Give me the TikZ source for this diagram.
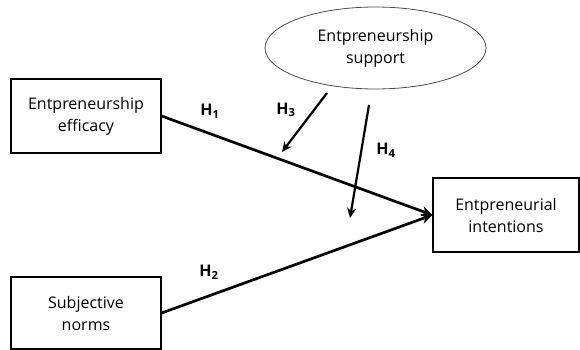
\documentclass[tikz,border=0pt]{standalone}
\usepackage{fontspec}
\setmainfont{Open Sans}
\usepackage{tikz}
\usetikzlibrary{shapes.geometric,arrows.meta}

\tikzset{
  box/.style={draw, line width=1.2pt, minimum width=150pt, minimum height=74pt, align=center, font=\fontsize{16}{22}\selectfont, inner sep=0pt},
  oval/.style={draw, ellipse, draw=black!70, line width=0.8pt, minimum width=221pt, minimum height=82pt, align=center, font=\fontsize{16}{22}\selectfont, inner sep=0pt},
  path/.style={line width=2.7pt, -{Stealth[length=11pt,width=10pt]}},
  moder/.style={line width=2.2pt, -{Stealth[length=10pt,width=9pt]}},
  hyp/.style={font=\fontsize{16}{18}\selectfont\bfseries}
}

\begin{document}
\begin{tikzpicture}[x=1pt,y=-1pt]
\useasboundingbox (0,0) rectangle (580,350);
\node[box] (eff) at (86,116) {Entpreneurship\\efficacy};
\node[box, minimum height=72pt] (norm) at (86,313) {Subjective\\norms};
\node[box, minimum width=146pt] (int) at (506,215) {Entpreneurial\\intentions};
\node[oval] (sup) at (375.5,48) {Entpreneurship\\support};

\coordinate (s3) at (327,93);
\coordinate (e3) at (282,152);
\coordinate (s4) at (369,105);
\coordinate (e4) at (350,218);

\draw[path] (eff.east) -- (int.west);
\draw[path] (norm.east) -- (int.west);
\draw[moder] (s3) -- (e3);
\draw[moder] (s4) -- (e4);

\node[hyp] (h1) at (210,111) {H\textsubscript{1}};
\node[hyp] (h2) at (209,272) {H\textsubscript{2}};
\node[hyp] (h3) at (286,110) {H\textsubscript{3}};
\node[hyp] (h4) at (386,150) {H\textsubscript{4}};
\end{tikzpicture}
\end{document}
